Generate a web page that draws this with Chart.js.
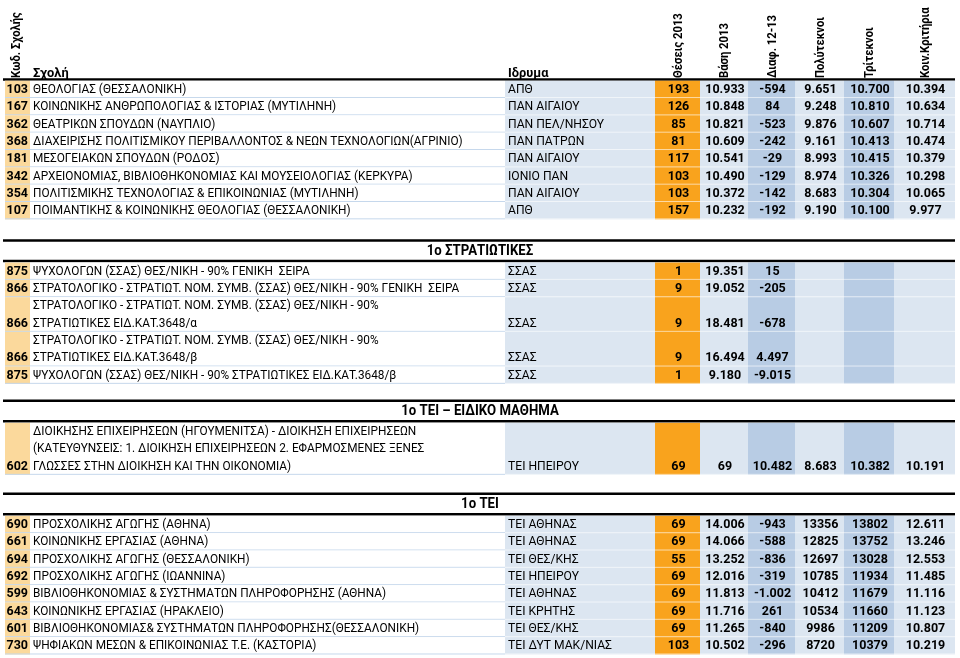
<!DOCTYPE html>
<html>
<head>
<meta charset="utf-8">
<script src="https://cdn.jsdelivr.net/npm/chart.js@4.4.1/dist/chart.umd.min.js"></script>
<style>
html, body { margin: 0; padding: 0; background: #fff; }
canvas { display: block; }
</style>
</head>
<body>
<canvas id="pinakas" width="960" height="658"></canvas>
<script>
// βάσεις 2013 - πίνακας

var headers = ['Κωδ. Σχολής', 'Σχολή', 'Ιδρυμα', 'Θέσεις 2013', 'Βάση 2013', 'Διαφ. 12-13', 'Πολύτεκνοι', 'Τρίτεκνοι', 'Κοιν.Κριτήρια'];

// πανεπιστημια
var codes1 = [103, 167, 362, 368, 181, 342, 354, 107];
var schools1 = [
    'ΘΕΟΛΟΓΙΑΣ (ΘΕΣΣΑΛΟΝΙΚΗ)',
    'ΚΟΙΝΩΝΙΚΗΣ ΑΝΘΡΩΠΟΛΟΓΙΑΣ & ΙΣΤΟΡΙΑΣ (ΜΥΤΙΛΗΝΗ)',
    'ΘΕΑΤΡΙΚΩΝ ΣΠΟΥΔΩΝ (ΝΑΥΠΛΙΟ)',
    'ΔΙΑΧΕΙΡΙΣΗΣ ΠΟΛΙΤΙΣΜΙΚΟΥ ΠΕΡΙΒΑΛΛΟΝΤΟΣ & ΝΕΩΝ ΤΕΧΝΟΛΟΓΙΩΝ(ΑΓΡΙΝΙΟ)',
    'ΜΕΣΟΓΕΙΑΚΩΝ ΣΠΟΥΔΩΝ (ΡΟΔΟΣ)',
    'ΑΡΧΕΙΟΝΟΜΙΑΣ, ΒΙΒΛΙΟΘΗΚΟΝΟΜΙΑΣ ΚΑΙ ΜΟΥΣΕΙΟΛΟΓΙΑΣ (ΚΕΡΚΥΡΑ)',
    'ΠΟΛΙΤΙΣΜΙΚΗΣ ΤΕΧΝΟΛΟΓΙΑΣ & ΕΠΙΚΟΙΝΩΝΙΑΣ (ΜΥΤΙΛΗΝΗ)',
    'ΠΟΙΜΑΝΤΙΚΗΣ & ΚΟΙΝΩΝΙΚΗΣ ΘΕΟΛΟΓΙΑΣ (ΘΕΣΣΑΛΟΝΙΚΗ)'
];
var inst1 = ['ΑΠΘ', 'ΠΑΝ ΑΙΓΑΙΟΥ', 'ΠΑΝ ΠΕΛ/ΝΗΣΟΥ', 'ΠΑΝ ΠΑΤΡΩΝ', 'ΠΑΝ ΑΙΓΑΙΟΥ', 'ΙΟΝΙΟ ΠΑΝ', 'ΠΑΝ ΑΙΓΑΙΟΥ', 'ΑΠΘ'];
var seats1 = [193, 126, 85, 81, 117, 103, 103, 157];
var base1 = [10933, 10848, 10821, 10609, 10541, 10490, 10372, 10232];
var diff1 = [-594, 84, -523, -242, -29, -129, -142, -192];
var poly1 = [9651, 9248, 9876, 9161, 8993, 8974, 8683, 9190];
var tri1 = [10700, 10810, 10607, 10413, 10415, 10326, 10304, 10100];
var koin1 = [10394, 10634, 10714, 10474, 10379, 10298, 10065, 9977];

// 1o στρατιωτικες
var codes2 = [875, 866, 866, 866, 875];
var schools2 = [
    'ΨΥΧΟΛΟΓΩΝ (ΣΣΑΣ) ΘΕΣ/ΝΙΚΗ - 90% ΓΕΝΙΚΗ  ΣΕΙΡΑ',
    'ΣΤΡΑΤΟΛΟΓΙΚΟ - ΣΤΡΑΤΙΩΤ. ΝΟΜ. ΣΥΜΒ. (ΣΣΑΣ) ΘΕΣ/ΝΙΚΗ - 90% ΓΕΝΙΚΗ  ΣΕΙΡΑ',
    'ΣΤΡΑΤΟΛΟΓΙΚΟ - ΣΤΡΑΤΙΩΤ. ΝΟΜ. ΣΥΜΒ. (ΣΣΑΣ) ΘΕΣ/ΝΙΚΗ - 90%\nΣΤΡΑΤΙΩΤΙΚΕΣ ΕΙΔ.ΚΑΤ.3648/α',
    'ΣΤΡΑΤΟΛΟΓΙΚΟ - ΣΤΡΑΤΙΩΤ. ΝΟΜ. ΣΥΜΒ. (ΣΣΑΣ) ΘΕΣ/ΝΙΚΗ - 90%\nΣΤΡΑΤΙΩΤΙΚΕΣ ΕΙΔ.ΚΑΤ.3648/β',
    'ΨΥΧΟΛΟΓΩΝ (ΣΣΑΣ) ΘΕΣ/ΝΙΚΗ - 90% ΣΤΡΑΤΙΩΤΙΚΕΣ ΕΙΔ.ΚΑΤ.3648/β'
];
var inst2 = ['ΣΣΑΣ', 'ΣΣΑΣ', 'ΣΣΑΣ', 'ΣΣΑΣ', 'ΣΣΑΣ'];
var seats2 = [1, 9, 9, 9, 1];
var base2 = [19351, 19052, 18481, 16494, 9180];
var diff2 = [15, -205, -678, 4497, -9015];

// 1o τει - ειδικο μαθημα
var codes3 = [602];
var schools3 = ['ΔΙΟΙΚΗΣΗΣ ΕΠΙΧΕΙΡΗΣΕΩΝ (ΗΓΟΥΜΕΝΙΤΣΑ) - ΔΙΟΙΚΗΣΗ ΕΠΙΧΕΙΡΗΣΕΩΝ\n(ΚΑΤΕΥΘΥΝΣΕΙΣ: 1. ΔΙΟΙΚΗΣΗ ΕΠΙΧΕΙΡΗΣΕΩΝ 2. ΕΦΑΡΜΟΣΜΕΝΕΣ ΞΕΝΕΣ\nΓΛΩΣΣΕΣ ΣΤΗΝ ΔΙΟΙΚΗΣΗ ΚΑΙ ΤΗΝ ΟΙΚΟΝΟΜΙΑ)'];
var inst3 = ['ΤΕΙ ΗΠΕΙΡΟΥ'];
var seats3 = [69];
var base3 = [69];
var diff3 = [10482];
var poly3 = [8683];
var tri3 = [10382];
var koin3 = [10191];

// 1o τει
var codes4 = [690, 661, 694, 692, 599, 643, 601, 730];
var schools4 = [
    'ΠΡΟΣΧΟΛΙΚΗΣ ΑΓΩΓΗΣ (ΑΘΗΝΑ)',
    'ΚΟΙΝΩΝΙΚΗΣ ΕΡΓΑΣΙΑΣ (ΑΘΗΝΑ)',
    'ΠΡΟΣΧΟΛΙΚΗΣ ΑΓΩΓΗΣ (ΘΕΣΣΑΛΟΝΙΚΗ)',
    'ΠΡΟΣΧΟΛΙΚΗΣ ΑΓΩΓΗΣ (ΙΩΑΝΝΙΝΑ)',
    'ΒΙΒΛΙΟΘΗΚΟΝΟΜΙΑΣ & ΣΥΣΤΗΜΑΤΩΝ ΠΛΗΡΟΦΟΡΗΣΗΣ (ΑΘΗΝΑ)',
    'ΚΟΙΝΩΝΙΚΗΣ ΕΡΓΑΣΙΑΣ (ΗΡΑΚΛΕΙΟ)',
    'ΒΙΒΛΙΟΘΗΚΟΝΟΜΙΑΣ& ΣΥΣΤΗΜΑΤΩΝ ΠΛΗΡΟΦΟΡΗΣΗΣ(ΘΕΣΣΑΛΟΝΙΚΗ)',
    'ΨΗΦΙΑΚΩΝ ΜΕΣΩΝ & ΕΠΙΚΟΙΝΩΝΙΑΣ Τ.Ε. (ΚΑΣΤΟΡΙΑ)'
];
var inst4 = ['ΤΕΙ ΑΘΗΝΑΣ', 'ΤΕΙ ΑΘΗΝΑΣ', 'ΤΕΙ ΘΕΣ/ΚΗΣ', 'ΤΕΙ ΗΠΕΙΡΟΥ', 'ΤΕΙ ΑΘΗΝΑΣ', 'ΤΕΙ ΚΡΗΤΗΣ', 'ΤΕΙ ΘΕΣ/ΚΗΣ', 'ΤΕΙ ΔΥΤ ΜΑΚ/ΝΙΑΣ'];
var seats4 = [69, 69, 55, 69, 69, 69, 69, 103];
var base4 = [14006, 14066, 13252, 12016, 11813, 11716, 11265, 10502];
var diff4 = [-943, -588, -836, -319, -1002, 261, -840, -296];
var poly4 = [13356, 12825, 12697, 10785, 10412, 10534, 9986, 8720];
var tri4 = [13802, 13752, 13028, 11934, 11679, 11660, 11209, 10379];
var koin4 = [12611, 13246, 12553, 11485, 11116, 11123, 10807, 10219];

var groups = [
    { title: null, codes: codes1, schools: schools1, inst: inst1, seats: seats1, base: base1, diff: diff1, poly: poly1, tri: tri1, koin: koin1, plain: [] },
    { title: '1o ΣΤΡΑΤΙΩΤΙΚΕΣ', codes: codes2, schools: schools2, inst: inst2, seats: seats2, base: base2, diff: diff2, poly: [], tri: [], koin: [], plain: [] },
    { title: '1o ΤΕΙ – ΕΙΔΙΚΟ ΜΑΘΗΜΑ', codes: codes3, schools: schools3, inst: inst3, seats: seats3, base: base3, diff: diff3, poly: poly3, tri: tri3, koin: koin3, plain: [] },
    { title: '1o ΤΕΙ', codes: codes4, schools: schools4, inst: inst4, seats: seats4, base: base4, diff: diff4, poly: poly4, tri: tri4, koin: koin4, plain: ['poly', 'tri'] }
];

// layout
var edges = [5, 30, 505, 655, 700, 748, 795, 844, 894, 955];
var keys = ['codes', 'schools', 'inst', 'seats', 'base', 'diff', 'poly', 'tri', 'koin'];
var fills = ['#fbd99c', '#ffffff', '#dce6f1', '#f9a31d', '#dce6f1', '#b8cce4', '#dce6f1', '#b8cce4', '#dce6f1'];
var LINE = 17.33;
var HEAD_LINE = 79.5;
var gaps = [0, 21.2, 17, 19];
var TITLE_H = 20.5;
var FONT = 'Roboto, "Noto Sans", sans-serif';

function fmt(v, plain) {
    if (v === undefined || v === null) return '';
    if (plain) return String(v);
    return String(v).replace(/\B(?=(\d{3})+(?!\d))/g, '.');
}

// κειμενο με λιγο στενεμα (calibri)
function say(ctx, text, x, y, sx) {
    ctx.save();
    ctx.translate(x, y);
    ctx.scale(sx, 1);
    ctx.fillText(text, 0, 0);
    ctx.restore();
}

var tablePlugin = {
    id: 'pinakas',
    afterDraw: function (chart) {
        var ctx = chart.ctx;
        var sx = chart.scales.x, sy = chart.scales.y;
        var px = function (v) { return sx.getPixelForValue(v); };
        var py = function (v) { return sy.getPixelForValue(v); };

        function thick(yv) {
            ctx.strokeStyle = '#000';
            ctx.lineWidth = 2.5;
            ctx.beginPath();
            ctx.moveTo(px(3), py(yv));
            ctx.lineTo(px(955), py(yv));
            ctx.stroke();
        }

        ctx.save();
        ctx.fillStyle = '#000';

        // header
        headers.forEach(function (h, i) {
            if (i === 1 || i === 2) {
                ctx.font = 'bold 13.5px ' + FONT;
                ctx.textAlign = 'left';
                ctx.textBaseline = 'alphabetic';
                say(ctx, h, px(edges[i] + 3), py(76.5), 0.95);
            } else {
                ctx.font = 'bold 12.5px ' + FONT;
                var cx = (edges[i] + edges[i + 1]) / 2 + (i === 0 ? -1 : 1);
                ctx.save();
                ctx.translate(px(cx), py(78));
                ctx.rotate(-Math.PI / 2);
                ctx.textAlign = 'left';
                ctx.textBaseline = 'middle';
                say(ctx, h, 0, 0, 0.9);
                ctx.restore();
            }
        });
        thick(HEAD_LINE);

        var y = HEAD_LINE + 1.2;
        groups.forEach(function (g, gi) {
            if (g.title) {
                y += gaps[gi];
                thick(y);
                ctx.font = 'bold 15px ' + FONT;
                ctx.textAlign = 'center';
                ctx.textBaseline = 'middle';
                ctx.fillStyle = '#000';
                say(ctx, g.title, px(480), py(y + TITLE_H / 2), 0.88);
                y += TITLE_H;
                thick(y);
                y += 1.5;
            }
            g.codes.forEach(function (c, r) {
                var lines = g.schools[r].split('\n');
                var h = lines.length * LINE;
                var top = y, bot = y + h;
                // cell fills
                keys.forEach(function (k, ci) {
                    ctx.fillStyle = fills[ci];
                    ctx.fillRect(px(edges[ci]), py(top), px(edges[ci + 1]) - px(edges[ci]), py(bot) - py(top));
                });
                // row borders
                ctx.fillStyle = '#c6d8ec';
                ctx.fillRect(px(edges[0]), py(bot) - 1, px(edges[2]) - px(edges[0]), 1);
                ctx.fillStyle = 'rgba(255,255,255,0.6)';
                ctx.fillRect(px(edges[2]), py(bot) - 1, px(edges[9]) - px(edges[2]), 1);

                var mid = bot - LINE / 2 + 0.5;
                ctx.fillStyle = '#000';
                ctx.textBaseline = 'middle';
                // code
                ctx.font = 'bold 12.5px ' + FONT;
                ctx.textAlign = 'right';
                ctx.fillText(String(c), px(edges[1] - 2), py(mid));
                // school lines
                ctx.font = '12.5px ' + FONT;
                ctx.textAlign = 'left';
                lines.forEach(function (t, li) {
                    say(ctx, t, px(edges[1] + 3), py(mid - (lines.length - 1 - li) * LINE), 0.945);
                });
                say(ctx, g.inst[r], px(edges[2] + 3), py(mid), 0.97);
                // numbers
                ctx.font = 'bold 12.5px ' + FONT;
                ctx.textAlign = 'center';
                for (var ci = 3; ci < keys.length; ci++) {
                    var k = keys[ci];
                    var txt = fmt(g[k][r], g.plain.indexOf(k) >= 0);
                    ctx.fillText(txt, px((edges[ci] + edges[ci + 1]) / 2 + 1), py(mid));
                }
                y = bot;
            });
        });
        ctx.restore();
    }
};

new Chart('pinakas', {
    type: 'scatter',
    data: { datasets: [] },
    options: {
        responsive: false,
        animation: false,
        devicePixelRatio: 1,
        layout: { padding: 0 },
        plugins: {
            legend: { display: false },
            tooltip: { enabled: false }
        },
        scales: {
            x: { type: 'linear', min: 0, max: 960, display: false },
            y: { type: 'linear', min: 0, max: 658, reverse: true, display: false }
        }
    },
    plugins: [tablePlugin]
});
</script>
</body>
</html>
